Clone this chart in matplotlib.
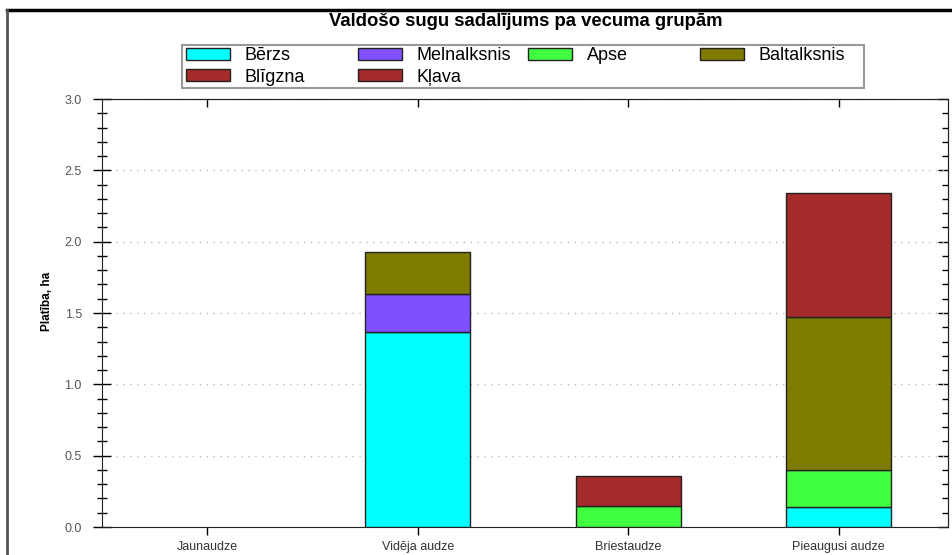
import numpy as np
import matplotlib.pyplot as plt
from matplotlib.lines import Line2D
from matplotlib.patches import Rectangle, Patch
from matplotlib.ticker import MultipleLocator

plt.rcParams['font.family'] = ['Liberation Sans', 'DejaVu Sans']

# dati
grupas = ['Jaunaudze', 'Vidēja audze', 'Briestaudze', 'Pieaugusi audze']
sugas = ['Bērzs', 'Melnalksnis', 'Apse', 'Baltalksnis', 'Blīgzna', 'Kļava']
krasas = ['#00ffff', '#8050ff', '#40ff40', '#7f7a00', '#a52a2a', '#a52a2a']

berzs = [0, 1.37, 0, 0.14]
melnalksnis = [0, 0.26, 0, 0]
apse = [0, 0, 0.15, 0.26]
baltalksnis = [0, 0.30, 0, 1.07]
bligzna = [0, 0, 0, 0.87]
klava = [0, 0, 0.21, 0]

vertibas = [berzs, melnalksnis, apse, baltalksnis, bligzna, klava]

fig = plt.figure(figsize=(9.52, 5.55), dpi=100)
ax = fig.add_axes([102/952, 1-527/555, 846/952, 428/555])

x = np.arange(len(grupas))
apaksa = np.zeros(len(grupas))
for nos, val, kr in zip(sugas, vertibas, krasas):
    val = np.array(val)
    lw = [1 if v > 0 else 0 for v in val]
    ax.bar(x, val, 0.5, bottom=apaksa, color=kr, edgecolor='#222222',
           linewidth=lw, label=nos, zorder=3)
    apaksa += val

ax.set_xlim(-0.5, 3.52)
ax.set_ylim(0, 3.0)
ax.set_xticks(x)
ax.set_xticklabels(grupas, fontsize=9, color='#333333')
ax.yaxis.set_major_locator(MultipleLocator(0.5))
ax.yaxis.set_minor_locator(MultipleLocator(0.1))
ax.tick_params(axis='y', which='major', direction='inout', length=13, width=1,
               labelsize=9, labelcolor='#555555', pad=8)
ax.tick_params(axis='y', which='minor', direction='inout', length=7, width=1)
ax.tick_params(axis='x', which='major', direction='out', length=6, width=1, pad=4)
for sp in ax.spines.values():
    sp.set_color('#222222')
ax.grid(axis='y', linestyle=(0, (1, 4)), color='#bbbbbb', linewidth=1, zorder=0)
ax.set_ylabel('Platība, ha', fontsize=8.5, fontweight='bold')
ax.yaxis.set_label_coords(-0.058, 0.526)

# labā ass - ticks uz iekšu
ay = ax.secondary_yaxis('right')
ay.yaxis.set_major_locator(MultipleLocator(0.5))
ay.yaxis.set_minor_locator(MultipleLocator(0.1))
ay.tick_params(which='major', direction='in', length=7, width=1, labelright=False)
ay.tick_params(which='minor', direction='in', length=4, width=1)
ay.spines['right'].set_color('#222222')

# augšējā ass
axt = ax.secondary_xaxis('top')
axt.set_xticks(x)
axt.tick_params(direction='in', length=6, width=1, labeltop=False)
axt.spines['top'].set_color('#222222')

fig.text(526/952, 1-22/555, 'Valdošo sugu sadalījums pa vecuma grupām', ha='center',
         va='center', fontsize=13.3, fontweight='bold', zorder=5)

# leģenda - 4 kolonnas ar vienādu platumu
fig.add_artist(Rectangle((182/952, 1-88/555), (864-182)/952, 43/555,
                         transform=fig.transFigure, facecolor='white',
                         edgecolor='#999999', linewidth=1.5))
kolonnas = [[0, 4], [1, 5], [2], [3]]
kol_x = [186, 358, 528, 700]
for idx, kx in zip(kolonnas, kol_x):
    h = [Patch(facecolor=krasas[i], edgecolor='#222222', linewidth=1) for i in idx]
    l = [sugas[i] for i in idx]
    lg = fig.legend(h, l, loc='upper left', bbox_to_anchor=(kx/952, 1-47/555),
                    fontsize=13, frameon=False, borderpad=0, borderaxespad=0,
                    handlelength=2.45, handleheight=0.65, handletextpad=0.8,
                    labelspacing=0.25)

# rāmis ap attēlu
fig.add_artist(Line2D([7/952, 1], [1-10/555, 1-10/555], color='black', lw=2.5))
fig.add_artist(Line2D([7/952, 7/952], [1-10/555, 0], color='#555555', lw=2))

fig.savefig('out.png', dpi=100)
